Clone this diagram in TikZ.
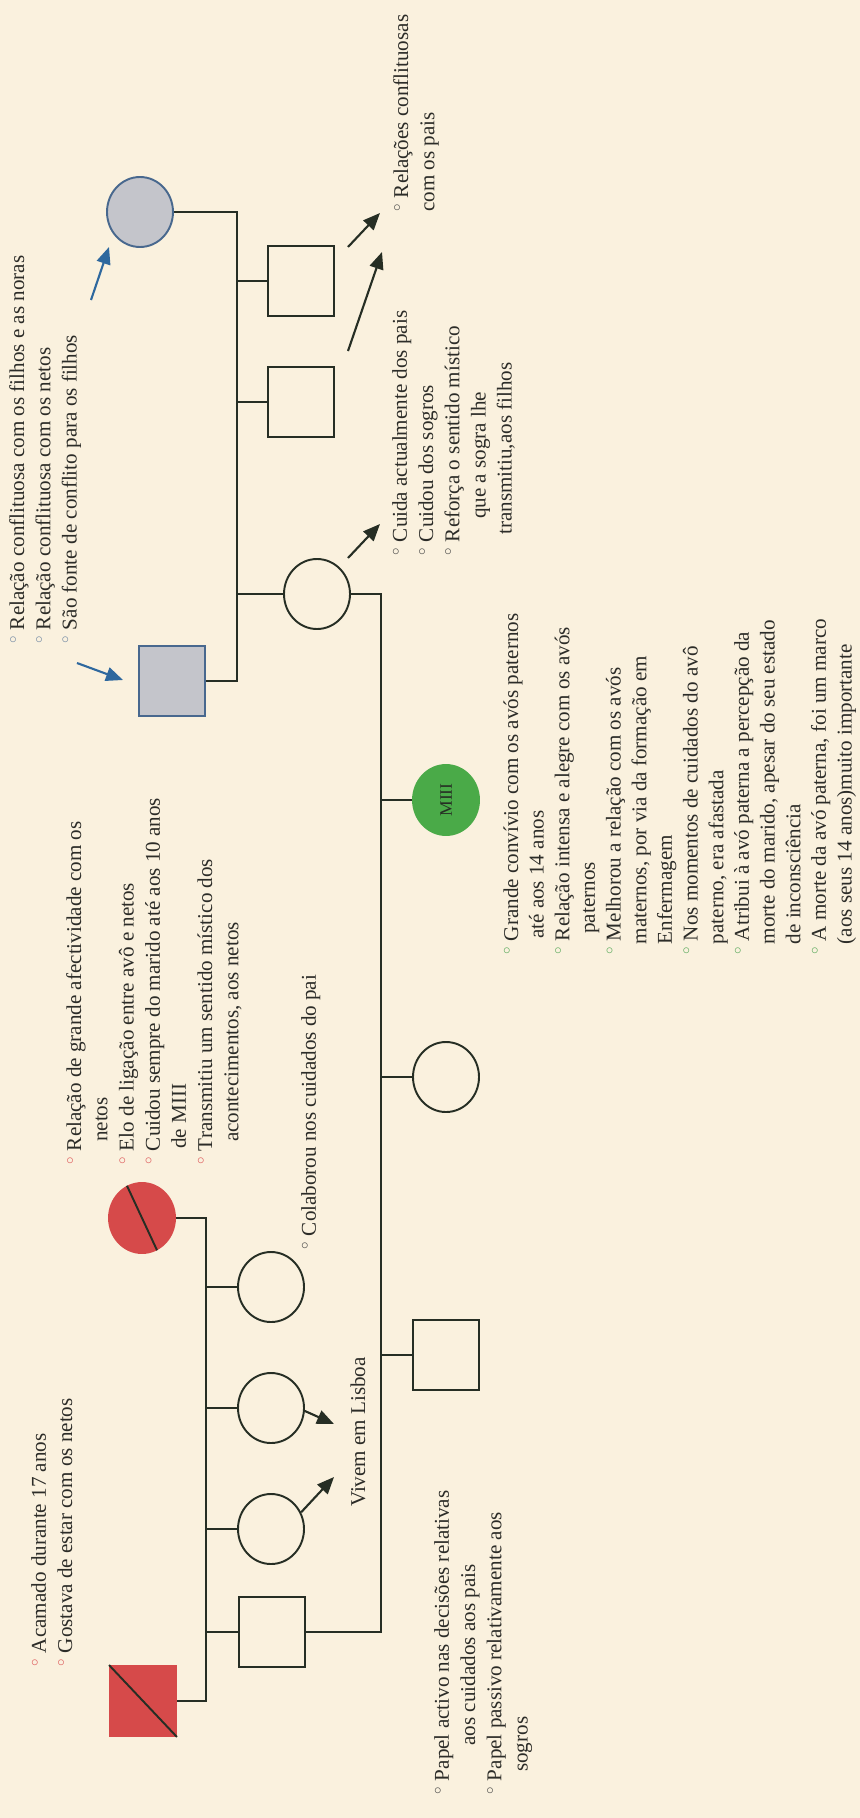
\documentclass[tikz,border=0pt]{standalone}
\usepackage{fontspec}
\setmainfont{Liberation Serif}
\usetikzlibrary{arrows.meta,shapes.geometric}
\definecolor{fundo}{RGB}{250,241,222}
\definecolor{traco}{RGB}{38,46,36}
\definecolor{verm}{RGB}{214,74,74}
\definecolor{cinza}{RGB}{196,197,203}
\definecolor{cinzab}{RGB}{72,104,142}
\definecolor{azul}{RGB}{46,104,158}
\definecolor{verde}{RGB}{74,170,72}
\definecolor{texto}{RGB}{44,44,40}
\definecolor{bverm}{RGB}{222,96,96}
\definecolor{bazul}{RGB}{118,140,165}
\definecolor{bverde}{RGB}{96,172,96}
\definecolor{bescuro}{RGB}{80,80,78}
\newcommand{\bul}[1]{\textcolor{#1}{$^\circ$}}
\begin{document}
\begin{tikzpicture}[x=.2mm,y=-.2mm,
  homem/.style={draw=traco,line width=1.1pt,minimum width=13.2mm,minimum height=14mm,inner sep=0},
  mulher/.style={ellipse,draw=traco,line width=1.1pt,minimum width=13.2mm,minimum height=14mm,inner sep=0},
  liga/.style={draw=traco,line width=1.1pt},
  seta/.style={-{Triangle[length=3.4mm,width=2.8mm]},line width=1.2pt,draw=#1},
  seta/.default=traco,
  nota/.style={rotate=90,anchor=north west,inner sep=0,align=left,text=texto,font=\fontsize{12}{14.9}\selectfont}]
\fill[fundo] (0,0) rectangle (860,1818);
\useasboundingbox (0,0) rectangle (860,1818);

\node[mulher,fill=cinza,draw=cinzab] (avom) at (140,212) {};
\node[homem,fill=cinza,draw=cinzab] (avop) at (172,681) {};
\node[homem] (tio1) at (301,281) {};
\node[homem] (tio2) at (301,402) {};
\node[mulher] (mae) at (317,594) {};
\node[mulher,fill=verm,draw=verm] (avmp) at (142,1218) {};
\node[homem,fill=verm,draw=verm] (avpp) at (143,1701) {};
\node[mulher] (tia3) at (271,1287) {};
\node[mulher] (tia2) at (271,1408) {};
\node[mulher] (tia1) at (271,1529) {};
\node[homem] (pai) at (272,1632) {};
\node[mulher,fill=verde,draw=verde,label={[rotate=90,text=traco,font=\fontsize{10}{12}\selectfont]center:MIII}] (miii) at (446,800) {};
\node[mulher] (irma) at (446,1077) {};
\node[homem] (irmao) at (446,1355) {};

\draw[liga] (avpp.north west)--(avpp.south east);
\draw[liga] (avmp.115)--(avmp.-65);

\coordinate (f1) at (237,681);
\draw[liga] (avom.east) -| (f1) -- (avop.east);
\foreach \n in {tio1,tio2,mae}
{
    \draw[liga] (\n.west) -- (\n.west -| f1);
}
\coordinate (f2) at (206,1701);
\draw[liga] (avmp.east) -| (f2) -- (avpp.east);
\foreach \n in {tia3,tia2,tia1,pai}
{
    \draw[liga] (\n.west) -- (\n.west -| f2);
}
\coordinate (f3) at (381,1632);
\draw[liga] (mae.east) -| (f3) -- (pai.east);
\foreach \n in {miii,irma,irmao}
{
    \draw[liga] (\n.west) -- (\n.west -| f3);
}

\coordinate (lis1) at (334,1477);
\coordinate (lis2) at (334,1424);
\draw[seta] (tia1.29) -- (lis1);
\draw[seta] (tia2.-5) -- (lis2);
\coordinate (ma) at (348,558);
\coordinate (mb) at (380,524);
\draw[seta] (ma) -- (mb);
\coordinate (r1a) at (348,247);
\coordinate (r1b) at (380,213);
\coordinate (r2a) at (348,351);
\coordinate (r2b) at (382,252);
\draw[seta] (r1a) -- (r1b);
\draw[seta] (r2a) -- (r2b);
\coordinate (z1a) at (91,300);
\coordinate (z1b) at (109,247);
\coordinate (z2a) at (77,663);
\coordinate (z2b) at (123,680);
\draw[seta=azul] (z1a) -- (z1b);
\draw[seta=azul] (z2a) -- (z2b);

\node[nota] (notaAvos) at (9,644) {\bul{bazul} Relação conflituosa com os filhos e as noras\\
\bul{bazul} Relação conflituosa com os netos\\
\bul{bazul} São fonte de conflito para os filhos};
\node[nota] (notaTios) at (393,212) {\bul{bescuro} Relações conflituosas\\
com os pais};
\node[nota] (notaMae) at (392,556) {\bul{bescuro} Cuida actualmente dos pais\\
\bul{bescuro} Cuidou dos sogros\\
\bul{bescuro} Reforça o sentido místico\\
\hspace*{21pt}que a sogra lhe\\
\hspace*{12pt}transmitiu,aos filhos};
\node[nota] (notaAvmp) at (66,1165) {\bul{bverm} Relação de grande afectividade com os\\
\hspace*{13pt}netos\\
\bul{bverm} Elo de ligação entre avô e netos\\
\bul{bverm} Cuidou sempre do marido até aos 10 anos\\
\hspace*{9pt}de MIII\\
\bul{bverm} Transmitiu um sentido místico dos\\
\hspace*{13pt}acontecimentos, aos netos};
\node[nota] (notaAvpp) at (31,1667) {\bul{bverm} Acamado durante 17 anos\\
\bul{bverm} Gostava de estar com os netos};
\node[nota] (notaTia) at (301,1250) {\bul{bescuro} Colaborou nos cuidados do pai};
\node[rotate=90,text=texto,font=\fontsize{12}{14.9}\selectfont] (lisboa) at (358,1432) {Vivem em Lisboa};
\node[nota,font=\fontsize{12}{14.6}\selectfont] (notaMiii) at (503,955) {\bul{bverde} Grande convívio com os avós paternos\\
\hspace*{9pt}até aos 14 anos\\
\bul{bverde} Relação intensa e alegre com os avós\\
\hspace*{12pt}paternos\\
\bul{bverde} Melhorou a relação com os avós\\
\hspace*{6pt}maternos, por via da formação em\\
\hspace*{6pt}Enfermagem\\
\bul{bverde} Nos momentos de cuidados do avô\\
\hspace*{6pt}paterno, era afastada\\
\bul{bverde} Atribui à avó paterna a percepção da\\
\hspace*{6pt}morte do marido, apesar do seu estado\\
\hspace*{6pt}de inconsciência\\
\bul{bverde} A morte da avó paterna, foi um marco\\
\hspace*{6pt}(aos seus 14 anos)muito importante};
\node[nota] (notaPai) at (434,1795) {\bul{bescuro} Papel activo nas decisões relativas\\
\hspace*{28pt}aos cuidados aos pais\\
\bul{bescuro} Papel passivo relativamente aos\\
\hspace*{13pt}sogros};
\end{tikzpicture}
\end{document}
